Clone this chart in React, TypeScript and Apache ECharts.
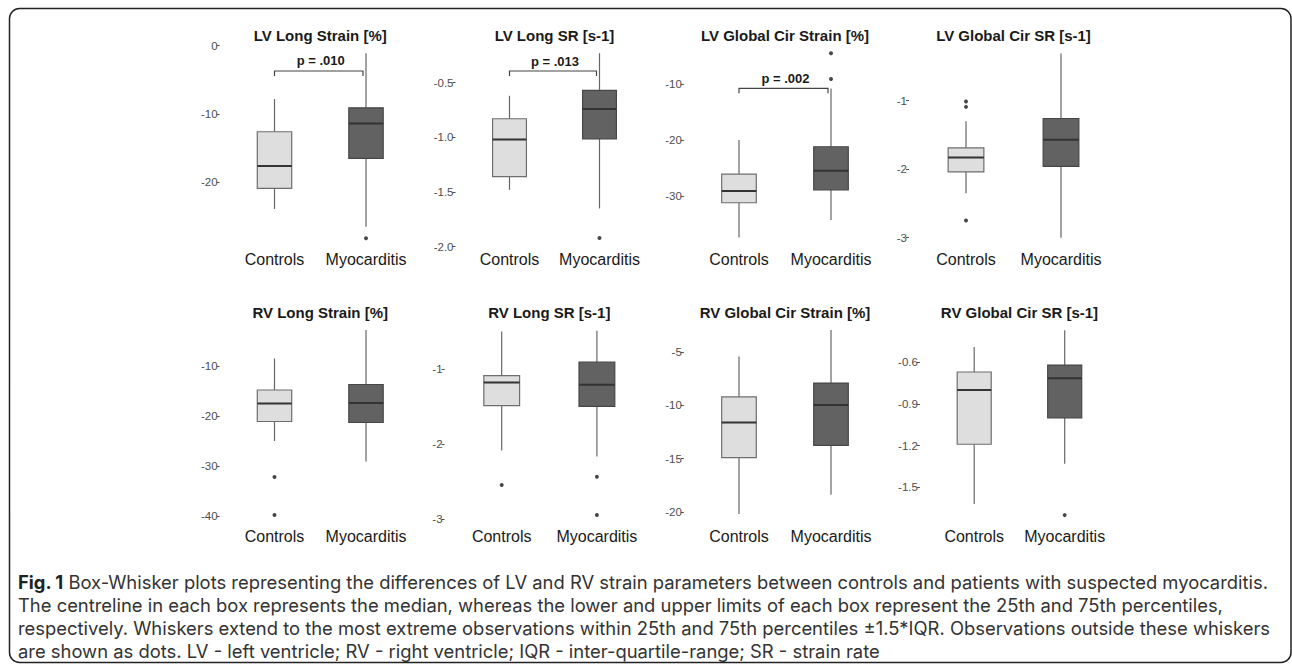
import React, { useEffect, useRef } from "react";
import * as echarts from "echarts";

const categories = ["Controls", "Myocarditis"];
const panelTitles = [
  "LV Long Strain [%]",
  "LV Long SR [s-1]",
  "LV Global Cir Strain [%]",
  "LV Global Cir SR [s-1]",
  "RV Long Strain [%]",
  "RV Long SR [s-1]",
  "RV Global Cir Strain [%]",
  "RV Global Cir SR [s-1]",
];

// [lower whisker, Q1, median, Q3, upper whisker]
const controlsStats = [
  [-23.9, -20.9, -17.6, -12.6, -7.8],
  [-1.48, -1.36, -1.02, -0.83, -0.62],
  [-37.4, -31.2, -29.1, -26.1, -20.0],
  [-2.35, -2.04, -1.83, -1.69, -1.3],
  [-25.0, -21.1, -17.5, -14.8, -8.5],
  [-2.09, -1.49, -1.18, -1.09, -0.5],
  [-20.2, -14.9, -11.6, -9.2, -5.4],
  [-1.62, -1.19, -0.8, -0.67, -0.49],
];
const myocarditisStats = [
  [-26.5, -16.5, -11.4, -9.1, -1.1],
  [-1.65, -1.015, -0.74, -0.57, -0.23],
  [-34.3, -28.9, -25.5, -21.2, -10.8],
  [-3.0, -1.96, -1.57, -1.26, -0.31],
  [-29.1, -21.3, -17.4, -13.7, -2.8],
  [-2.17, -1.5, -1.21, -0.91, -0.49],
  [-18.4, -13.75, -9.96, -7.9, -2.9],
  [-1.33, -1.0, -0.715, -0.62, -0.37],
];
const controlsOutliers = [[], [], [], [-1.01, -1.09, -2.75], [-32.2, -39.8], [-2.55], [], []];
const myocarditisOutliers = [[-28.2], [-1.92], [-4.5, -9.1], [], [], [-2.44, -2.95], [], [-1.7]];

const yTicks = [
  [0, -10, -20],
  [-0.5, -1, -1.5, -2],
  [-10, -20, -30],
  [-1, -2, -3],
  [-10, -20, -30, -40],
  [-1, -2, -3],
  [-5, -10, -15, -20],
  [-0.6, -0.9, -1.2, -1.5],
];
const yTickDecimals = [0, 1, 0, 0, 0, 0, 0, 1];
const yMin = [-29.47, -2.003, -39.1, -3.136, -41.6, -3.07, -21.15, -1.764];
const yMax = [0.25, -0.146, -2.86, -0.172, -1.0, -0.36, -2.06, -0.303];

const pLabels = ["p = .010", "p = .013", "p = .002", "", "", "", "", ""];
const pBracketY = [-3.7, -0.393, -10.77, null, null, null, null, null];

const captionLead = "Fig. 1";
const captionLines = [
  " Box-Whisker plots representing the differences of LV and RV strain parameters between controls and patients with suspected myocarditis.",
  "The centreline in each box represents the median, whereas the lower and upper limits of each box represent the 25th and 75th percentiles,",
  "respectively. Whiskers extend to the most extreme observations within 25th and 75th percentiles \u00b11.5*IQR. Observations outside these whiskers",
  "are shown as dots. LV - left ventricle; RV - right ventricle; IQR - inter-quartile-range; SR - strain rate",
];

// layout (pixels)
const panelCenter0 = [274.5, 509.5, 739, 966, 274.5, 501.7, 739, 974.2];
const panelSpacing = [91.5, 90, 92, 95, 91.5, 95.2, 92, 90.5];
const rowTop = [44, 321];
const rowHeight = 203;
const titleY = [35, 312];
const captionTop = [570.5, 593.5, 616.5, 639.5];

const FONT = '"Liberation Sans", Arial, sans-serif';
const CAP_FONT = 'Inter, "Open Sans", sans-serif';

export default function App() {
  const ref = useRef<HTMLDivElement>(null);

  useEffect(() => {
    if (!ref.current) return;
    const chart = echarts.init(ref.current, undefined, { renderer: "svg" });

    const grids: any[] = [];
    const xAxes: any[] = [];
    const yAxes: any[] = [];
    const series: any[] = [];
    const graphics: any[] = [];

    panelTitles.forEach((title, i) => {
      const row = i < 4 ? 0 : 1;
      const sp = panelSpacing[i];
      const left = panelCenter0[i] - sp / 2;
      grids.push({ left, top: rowTop[row], width: sp * 2, height: rowHeight });
      xAxes.push({
        type: "category",
        gridIndex: i,
        data: categories,
        axisLine: { show: false },
        axisTick: { show: false },
        axisLabel: { color: "#1a1a1a", fontSize: 16, fontFamily: FONT, margin: 4, interval: 0 },
        splitLine: { show: false },
      });
      const dec = yTickDecimals[i];
      yAxes.push({
        type: "value",
        gridIndex: i,
        min: yMin[i],
        max: yMax[i],
        offset: sp * 0.1,
        axisLine: { show: false },
        splitLine: { show: false },
        axisTick: {
          show: true,
          length: 3,
          customValues: yTicks[i],
          lineStyle: { color: "#4d4d4d", width: 1 },
        },
        axisLabel: {
          customValues: yTicks[i],
          formatter: (v: number) => v.toFixed(dec),
          color: "#4d4d4d",
          fontSize: 11.5,
          fontFamily: FONT,
          margin: 2,
        },
      });

      const boxData = [
        [0, ...controlsStats[i]],
        [1, ...myocarditisStats[i]],
      ];
      series.push({
        type: "custom",
        xAxisIndex: i,
        yAxisIndex: i,
        encode: { x: 0, y: [1, 2, 3, 4, 5] },
        data: boxData,
        renderItem: (params: any, api: any) => {
          const idx = api.value(0);
          const pLow = api.coord([idx, api.value(1)]);
          const pQ1 = api.coord([idx, api.value(2)]);
          const pMed = api.coord([idx, api.value(3)]);
          const pQ3 = api.coord([idx, api.value(4)]);
          const pHigh = api.coord([idx, api.value(5)]);
          const band = api.size([1, 0])[0];
          const w = band * 0.376;
          const x = pLow[0];
          const fill = idx === 0 ? "#DEDEDE" : "#626262";
          const stroke = idx === 0 ? "#6e6e6e" : "#474747";
          const whisker = { stroke: "#666666", lineWidth: 1.2 };
          return {
            type: "group",
            children: [
              { type: "line", shape: { x1: x, y1: pHigh[1], x2: x, y2: pQ3[1] }, style: whisker },
              { type: "line", shape: { x1: x, y1: pQ1[1], x2: x, y2: pLow[1] }, style: whisker },
              {
                type: "rect",
                shape: { x: x - w / 2, y: pQ3[1], width: w, height: pQ1[1] - pQ3[1] },
                style: { fill, stroke, lineWidth: 1.2 },
              },
              {
                type: "line",
                shape: { x1: x - w / 2, y1: pMed[1], x2: x + w / 2, y2: pMed[1] },
                style: { stroke: "#333333", lineWidth: 2 },
              },
            ],
          };
        },
      });

      const outData = [
        ...controlsOutliers[i].map((v) => [0, v]),
        ...myocarditisOutliers[i].map((v) => [1, v]),
      ];
      series.push({
        type: "scatter",
        xAxisIndex: i,
        yAxisIndex: i,
        data: outData,
        symbol: "circle",
        symbolSize: 4,
        itemStyle: { color: "#1a1a1a" },
        silent: true,
      });

      const by = pBracketY[i];
      if (by !== null) {
        const label = pLabels[i];
        series.push({
          type: "custom",
          xAxisIndex: i,
          yAxisIndex: i,
          encode: { x: 0, y: 1 },
          data: [[0, by]],
          renderItem: (params: any, api: any) => {
            const yv = api.value(1);
            const a = api.coord([0, yv]);
            const b = api.coord([1, yv]);
            const x1 = a[0];
            const x2 = b[0] - 3;
            const y = a[1];
            return {
              type: "group",
              children: [
                {
                  type: "polyline",
                  shape: { points: [[x1, y + 5], [x1, y], [x2, y], [x2, y + 5]] },
                  style: { stroke: "#444444", lineWidth: 1.2, fill: null },
                },
                {
                  type: "text",
                  x: (x1 + x2) / 2 + 2,
                  y: y - 10,
                  style: {
                    text: label,
                    textAlign: "center",
                    textVerticalAlign: "middle",
                    fontSize: 13,
                    fontWeight: "bold",
                    fontFamily: FONT,
                    fill: "#1a1a1a",
                  },
                },
              ],
            };
          },
        });
      }

      graphics.push({
        type: "text",
        x: panelCenter0[i] + sp / 2,
        y: titleY[row],
        style: {
          text: title,
          textAlign: "center",
          textVerticalAlign: "middle",
          fontSize: 15,
          fontWeight: "bold",
          fontFamily: FONT,
          fill: "#1a1a1a",
        },
      });
    });

    // frame
    graphics.push({
      type: "rect",
      shape: { x: 9.5, y: 8.5, width: 1281.5, height: 654, r: 10 },
      style: { fill: "none", stroke: "#222222", lineWidth: 1.5 },
      silent: true,
    });

    chart.setOption({
      animation: false,
      backgroundColor: "#ffffff",
      grid: grids,
      xAxis: xAxes,
      yAxis: yAxes,
      series,
      graphic: graphics,
    });

    return () => chart.dispose();
  }, []);

  const lineStyle: any = {
    position: "absolute",
    left: 18,
    fontFamily: CAP_FONT,
    fontSize: 18.4,
    lineHeight: "23px",
    color: "#333333",
    whiteSpace: "nowrap",
  };

  return (
    <div style={{ position: "fixed", left: 0, top: 0, width: 1292, height: 668, background: "#fff" }}>
      <div ref={ref} style={{ position: "absolute", left: 0, top: 0, width: 1292, height: 668 }} />
      {captionLines.map((line, k) => (
        <div key={k} style={{ ...lineStyle, top: captionTop[k] }}>
          {k === 0 ? <b style={{ color: "#222222" }}>{captionLead}</b> : null}
          {line}
        </div>
      ))}
    </div>
  );
}
